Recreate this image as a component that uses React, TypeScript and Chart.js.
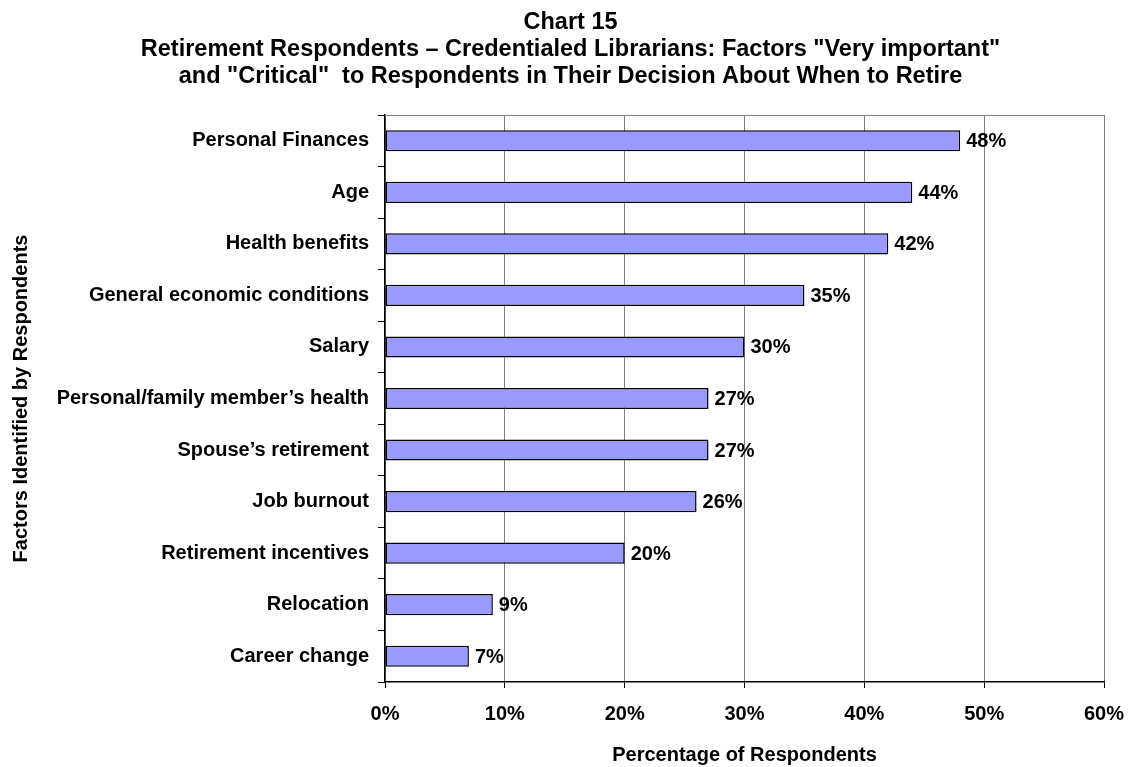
import React, { useEffect, useRef } from "react";
import { Chart, registerables } from "chart.js";

Chart.register(...registerables);

const categories = [
  "Personal Finances",
  "Age",
  "Health benefits",
  "General economic conditions",
  "Salary",
  "Personal/family member\u2019s health",
  "Spouse\u2019s retirement",
  "Job burnout",
  "Retirement incentives",
  "Relocation",
  "Career change",
];
const values = [48, 44, 42, 35, 30, 27, 27, 26, 20, 9, 7];
const titleLines = [
  "Chart 15",
  "Retirement Respondents \u2013 Credentialed Librarians: Factors \"Very important\"",
  "and \"Critical\"  to Respondents in Their Decision About When to Retire",
];
const xAxisTitle = "Percentage of Respondents";
const yAxisTitle = "Factors Identified by Respondents";
const xMin = 0;
const xMax = 60;
const xStep = 10;

const FONT = "Arial, 'Liberation Sans', sans-serif";

const titlePlugin = {
  id: "multiTitle",
  afterDraw(chart: any) {
    const { ctx } = chart;
    ctx.save();
    ctx.font = `bold 23.5px ${FONT}`;
    ctx.fillStyle = "#000";
    ctx.textAlign = "center";
    ctx.textBaseline = "alphabetic";
    const cx = chart.width / 2 + 6;
    titleLines.forEach((line, i) => {
      ctx.fillText(line, cx, 29 + i * 27);
    });
    ctx.restore();
  },
};

const borderPlugin = {
  id: "plotBorder",
  beforeDatasetsDraw(chart: any) {
    const { ctx, chartArea } = chart;
    ctx.save();
    ctx.strokeStyle = "#808080";
    ctx.lineWidth = 1;
    ctx.beginPath();
    ctx.moveTo(chartArea.left, chartArea.top + 0.5);
    ctx.lineTo(chartArea.right, chartArea.top + 0.5);
    ctx.stroke();
    ctx.restore();
  },
};

const labelPlugin = {
  id: "barLabels",
  afterDatasetsDraw(chart: any) {
    const { ctx } = chart;
    const meta = chart.getDatasetMeta(0);
    ctx.save();
    ctx.font = `bold 20px ${FONT}`;
    ctx.fillStyle = "#000";
    ctx.textAlign = "left";
    ctx.textBaseline = "middle";
    meta.data.forEach((bar: any, i: number) => {
      ctx.fillText(values[i] + "%", bar.x + 6, bar.y + 1);
    });
    ctx.restore();
  },
};

export default function App() {
  const ref = useRef<HTMLCanvasElement>(null);
  useEffect(() => {
    if (!ref.current) return;
    const chart = new Chart(ref.current, {
      type: "bar",
      data: {
        labels: categories,
        datasets: [
          {
            data: values,
            backgroundColor: "#9999FF",
            borderColor: "#000000",
            borderWidth: 1.5,
            borderSkipped: false,
            barPercentage: 0.41,
            categoryPercentage: 1,
          },
        ],
      },
      options: {
        indexAxis: "y",
        responsive: false,
        animation: false,
        layout: { padding: { left: 0, right: 0, top: 115, bottom: 0 } },
        plugins: {
          legend: { display: false },
          tooltip: { enabled: false },
          title: { display: false },
        },
        scales: {
          x: {
            min: xMin,
            max: xMax,
            ticks: {
              stepSize: xStep,
              color: "#000",
              font: { family: FONT, size: 20, weight: "bold" },
              padding: 14,
              callback: (v: any) => v + "%",
            },
            grid: {
              color: "#808080",
              lineWidth: 1,
              tickColor: "#000",
              tickLength: 6,
            },
            border: { color: "#000", width: 1.5 },
            title: {
              display: true,
              text: xAxisTitle,
              color: "#000",
              font: { family: FONT, size: 20, weight: "bold" },
              padding: { top: 14, bottom: 0 },
            },
            afterFit: (scale: any) => {
              scale.height = 85;
              scale.paddingRight = 25;
            },
          },
          y: {
            ticks: {
              color: "#000",
              font: { family: FONT, size: 20, weight: "bold" },
              padding: 9,
            },
            grid: {
              offset: true,
              drawOnChartArea: false,
              tickColor: "#000",
              tickLength: 7,
            },
            border: { color: "#000", width: 1.5 },
            title: {
              display: true,
              text: yAxisTitle,
              color: "#000",
              font: { family: FONT, size: 20, weight: "bold" },
              padding: { top: 9, bottom: 0 },
            },
            afterFit: (scale: any) => {
              scale.width = 385;
            },
          },
        },
      },
      plugins: [borderPlugin, labelPlugin, titlePlugin],
    });
    return () => chart.destroy();
  }, []);
  return (
    <div style={{ position: "fixed", left: 0, top: 0, width: 1129, height: 767, background: "#fff" }}>
      <canvas ref={ref} width={1129} height={767} style={{ display: "block" }} />
    </div>
  );
}
